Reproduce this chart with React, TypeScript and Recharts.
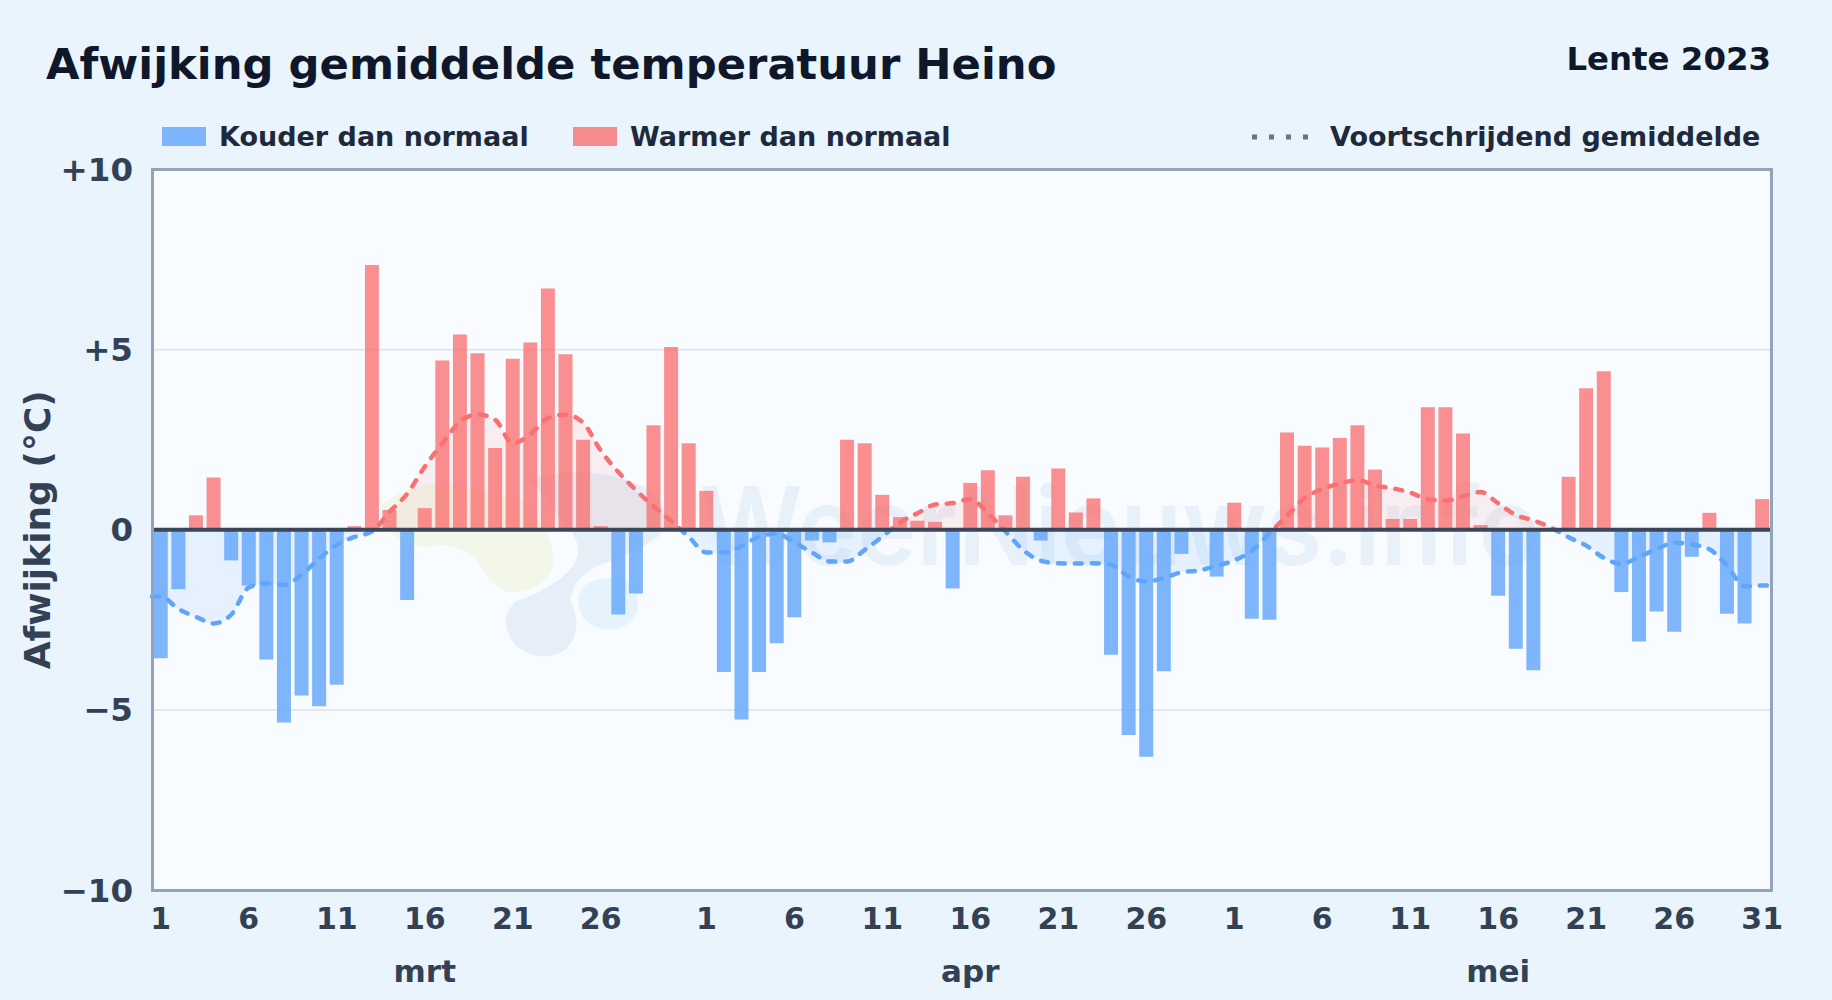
import { Area, Bar, CartesianGrid, ComposedChart, ReferenceLine, XAxis, YAxis } from "recharts";

const FONT = "'DejaVu Sans', sans-serif";

const days = [
  ...Array.from({ length: 31 }, (_, i) => `mrt-${i + 1}`),
  ...Array.from({ length: 30 }, (_, i) => `apr-${i + 1}`),
  ...Array.from({ length: 31 }, (_, i) => `mei-${i + 1}`),
];

const deviation = [
  // mrt
  -3.57, -1.65, 0.4, 1.45, -0.85, -1.55, -3.6, -5.35, -4.6, -4.9, -4.3, 0.1, 7.35, 0.55, -1.95, 0.6,
  4.7, 5.42, 4.9, 2.27, 4.75, 5.2, 6.7, 4.87, 2.5, 0.1, -2.35, -1.77, 2.9, 5.07, 2.4,
  // apr
  1.08, -3.95, -5.27, -3.95, -3.15, -2.43, -0.3, -0.35, 2.5, 2.4, 0.97, 0.35, 0.25, 0.22, -1.63, 1.3,
  1.65, 0.4, 1.47, -0.3, 1.7, 0.48, 0.87, -3.47, -5.7, -6.3, -3.93, -0.67, 0, -1.3,
  // mei
  0.75, -2.47, -2.5, 2.7, 2.33, 2.28, 2.55, 2.9, 1.67, 0.3, 0.3, 3.4, 3.4, 2.67, 0.13, -1.83, -3.3,
  -3.9, 0, 1.47, 3.93, 4.4, -1.73, -3.1, -2.27, -2.83, -0.75, 0.47, -2.33, -2.6, 0.85,
];

const movingAvg = [
  // mrt
  -1.85, -2.2, -2.42, -2.6, -2.36, -1.6, -1.49, -1.53, -1.25, -0.8, -0.42, -0.2, -0.05, 0.5, 1.0, 1.75,
  2.4, 3.0, 3.2, 3.05, 2.4, 2.65, 3.1, 3.2, 2.97, 2.2, 1.6, 1.1, 0.65, 0.25, -0.2,
  // apr
  -0.63, -0.63, -0.46, -0.19, -0.11, -0.35, -0.63, -0.88, -0.88, -0.56, -0.19, 0.2, 0.46, 0.7, 0.74,
  0.85, 0.46, -0.05, -0.56, -0.86, -0.93, -0.94, -0.93, -0.97, -1.3, -1.44, -1.34, -1.18, -1.13, -1.0,
  // mei
  -0.85, -0.58, -0.1, 0.39, 0.88, 1.13, 1.28, 1.38, 1.23, 1.15, 1.03, 0.85, 0.81, 0.93, 1.05, 0.73,
  0.41, 0.26, 0.06, -0.21, -0.44, -0.78, -0.95, -0.75, -0.54, -0.36, -0.41, -0.54, -1.0, -1.57, -1.55,
];

const dayTicks = [
  "mrt-1", "mrt-6", "mrt-11", "mrt-16", "mrt-21", "mrt-26",
  "apr-1", "apr-6", "apr-11", "apr-16", "apr-21", "apr-26",
  "mei-1", "mei-6", "mei-11", "mei-16", "mei-21", "mei-26", "mei-31",
];
const monthTicks = ["mrt-16", "apr-16", "mei-16"];
const yTicks = [-10, -5, 0, 5, 10];

const data = days.map((day, i) => ({
  day,
  warm: deviation[i] > 0 ? deviation[i] : null,
  cold: deviation[i] < 0 ? deviation[i] : null,
}));

// the moving average runs on to the plot edges, so it gets its own numeric x axis (day index)
const avgData = [
  { x: 0, avg: movingAvg[0] },
  ...movingAvg.map((avg, i) => ({ x: i + 0.5, avg })),
  { x: days.length, avg: movingAvg[movingAvg.length - 1] },
];

// share of the moving average's range that lies above zero, so the colour flips at 0
const avgMax = Math.max(...movingAvg);
const avgMin = Math.min(...movingAvg);
const zeroAt = avgMax / (avgMax - avgMin);

const PLOT = { left: 152, top: 169.5, right: 1771, bottom: 890 };

function yLabel(v: number) {
  if (v > 0) return `+${v}`;
  if (v < 0) return `\u2212${-v}`;
  return "0";
}

function Watermark() {
  return (
    <svg width={1832} height={1000} style={{ position: "absolute", left: 0, top: 0 }}>
      <rect x={PLOT.left} y={PLOT.top} width={PLOT.right - PLOT.left} height={PLOT.bottom - PLOT.top} fill="#f8fbff" />
      <path d="M382 505 Q400 488 440 482 L520 500 Q555 530 553 565 Q545 592 510 592 Q495 590 480 565 Q470 548 440 545 Q420 550 400 540 Q380 525 382 505 Z" fill="#f2f7ea" />
      <path d="M530 480 Q590 460 650 490 Q675 515 660 535 Q640 550 600 565 Q575 575 570 600 Q585 630 565 650 Q540 665 515 645 Q497 620 515 602 Q550 590 570 570 Q590 545 560 520 Q545 495 530 480 Z" fill="#e6eff8" />
      <path d="M590 582 Q625 570 636 590 Q645 625 610 630 Q580 628 578 600 Q578 590 590 582 Z" fill="#e6f3fd" />
      <text
        x={700}
        y={565}
        fontFamily="Inter, sans-serif"
        fontWeight={600}
        fontSize={108}
        textLength={840}
        lengthAdjust="spacingAndGlyphs"
        fill="#2f7fc4"
        fillOpacity={0.08}
      >
        WeerNieuws.info
      </text>
    </svg>
  );
}

function LegendRow() {
  const text = { position: "absolute", top: 121, fontSize: 27, fontWeight: 700, color: "#1e293b", whiteSpace: "nowrap" } as const;
  return (
    <>
      <div style={{ position: "absolute", left: 162, top: 127, width: 44, height: 19, background: "#60a5fa", opacity: 0.8 }} />
      <div style={{ ...text, left: 219 }}>Kouder dan normaal</div>
      <div style={{ position: "absolute", left: 573, top: 127, width: 44, height: 19, background: "#f87171", opacity: 0.8 }} />
      <div style={{ ...text, left: 630 }}>Warmer dan normaal</div>
      <svg width={60} height={10} style={{ position: "absolute", left: 1250, top: 132 }}>
        <line x1={2} y1={5} x2={58} y2={5} stroke="#64748b" strokeWidth={5} strokeDasharray="5 12" />
      </svg>
      <div style={{ ...text, left: 1330 }}>Voortschrijdend gemiddelde</div>
    </>
  );
}

export default function App() {
  return (
    <div
      style={{
        position: "absolute",
        left: 0,
        top: 0,
        width: 1832,
        height: 1000,
        overflow: "hidden",
        fontFamily: FONT,
        background: "#e9f4fd",
      }}
    >
      <Watermark />
      <div style={{ position: "absolute", left: 46, top: 39, fontSize: 43.3, fontWeight: 700, color: "#0f172a", whiteSpace: "nowrap" }}>
        Afwijking gemiddelde temperatuur Heino
      </div>
      <div style={{ position: "absolute", right: 61, top: 40, fontSize: 32.4, fontWeight: 700, color: "#0f172a", whiteSpace: "nowrap" }}>
        Lente 2023
      </div>
      <LegendRow />
      <div style={{ position: "absolute", left: 0, top: 0 }}>
        <ComposedChart
          width={1832}
          height={1000}
          data={data}
          margin={{ top: PLOT.top, right: 1832 - PLOT.right, bottom: 0, left: 0 }}
          barCategoryGap="10%"
          style={{ fontFamily: FONT }}
        >
          <defs>
            <linearGradient id="avgStroke" x1="0" y1="0" x2="0" y2="1">
              <stop offset={zeroAt} stopColor="#f87171" />
              <stop offset={zeroAt} stopColor="#60a5fa" />
            </linearGradient>
            <linearGradient id="avgFill" x1="0" y1="0" x2="0" y2="1">
              <stop offset={zeroAt} stopColor="#f87171" stopOpacity={0.16} />
              <stop offset={zeroAt} stopColor="#60a5fa" stopOpacity={0.2} />
            </linearGradient>
          </defs>
          <CartesianGrid vertical={false} stroke="#e2e8f0" strokeWidth={2} />
          <XAxis
            dataKey="day"
            ticks={dayTicks}
            interval={0}
            tickFormatter={(d: string) => d.split("-")[1]}
            tick={{ fontSize: 30, fontWeight: 700, fill: "#334155" }}
            tickLine={false}
            axisLine={false}
            tickMargin={12}
            height={50}
          />
          <XAxis
            xAxisId="month"
            dataKey="day"
            ticks={monthTicks}
            interval={0}
            tickFormatter={(d: string) => d.split("-")[0]}
            tick={{ fontSize: 31, fontWeight: 700, fill: "#334155" }}
            tickLine={false}
            axisLine={false}
            tickMargin={14}
            height={60}
          />
          <XAxis xAxisId="avg" type="number" dataKey="x" domain={[0, days.length]} height={0} hide />
          <YAxis
            domain={[-10, 10]}
            ticks={yTicks}
            interval={0}
            tickFormatter={yLabel}
            tick={{ fontSize: 32.5, fontWeight: 700, fill: "#334155" }}
            tickLine={false}
            axisLine={false}
            tickMargin={13}
            width={PLOT.left}
            label={{
              value: "Afwijking (\u00B0C)",
              angle: -90,
              position: "insideLeft",
              offset: 37,
              style: { fontSize: 36, fontWeight: 700, fill: "#334155", textAnchor: "middle" },
            }}
          />
          <Area
            data={avgData}
            xAxisId="avg"
            dataKey="avg"
            type="monotone"
            stroke="url(#avgStroke)"
            strokeWidth={4.5}
            strokeDasharray="7 10"
            strokeLinecap="round"
            fill="url(#avgFill)"
            baseValue={0}
            dot={false}
            activeDot={false}
            isAnimationActive={false}
          />
          <Bar dataKey="cold" stackId="dev" fill="#60a5fa" fillOpacity={0.8} isAnimationActive={false} />
          <Bar dataKey="warm" stackId="dev" fill="#f87171" fillOpacity={0.78} isAnimationActive={false} />
          <ReferenceLine y={0} stroke="#3b4659" strokeWidth={4} />
        </ComposedChart>
      </div>
      <div
        style={{
          position: "absolute",
          left: PLOT.left - 1.5,
          top: PLOT.top - 1.5,
          width: PLOT.right - PLOT.left + 3,
          height: PLOT.bottom - PLOT.top + 3,
          boxSizing: "border-box",
          border: "3px solid #94a3b8",
          pointerEvents: "none",
        }}
      />
    </div>
  );
}
